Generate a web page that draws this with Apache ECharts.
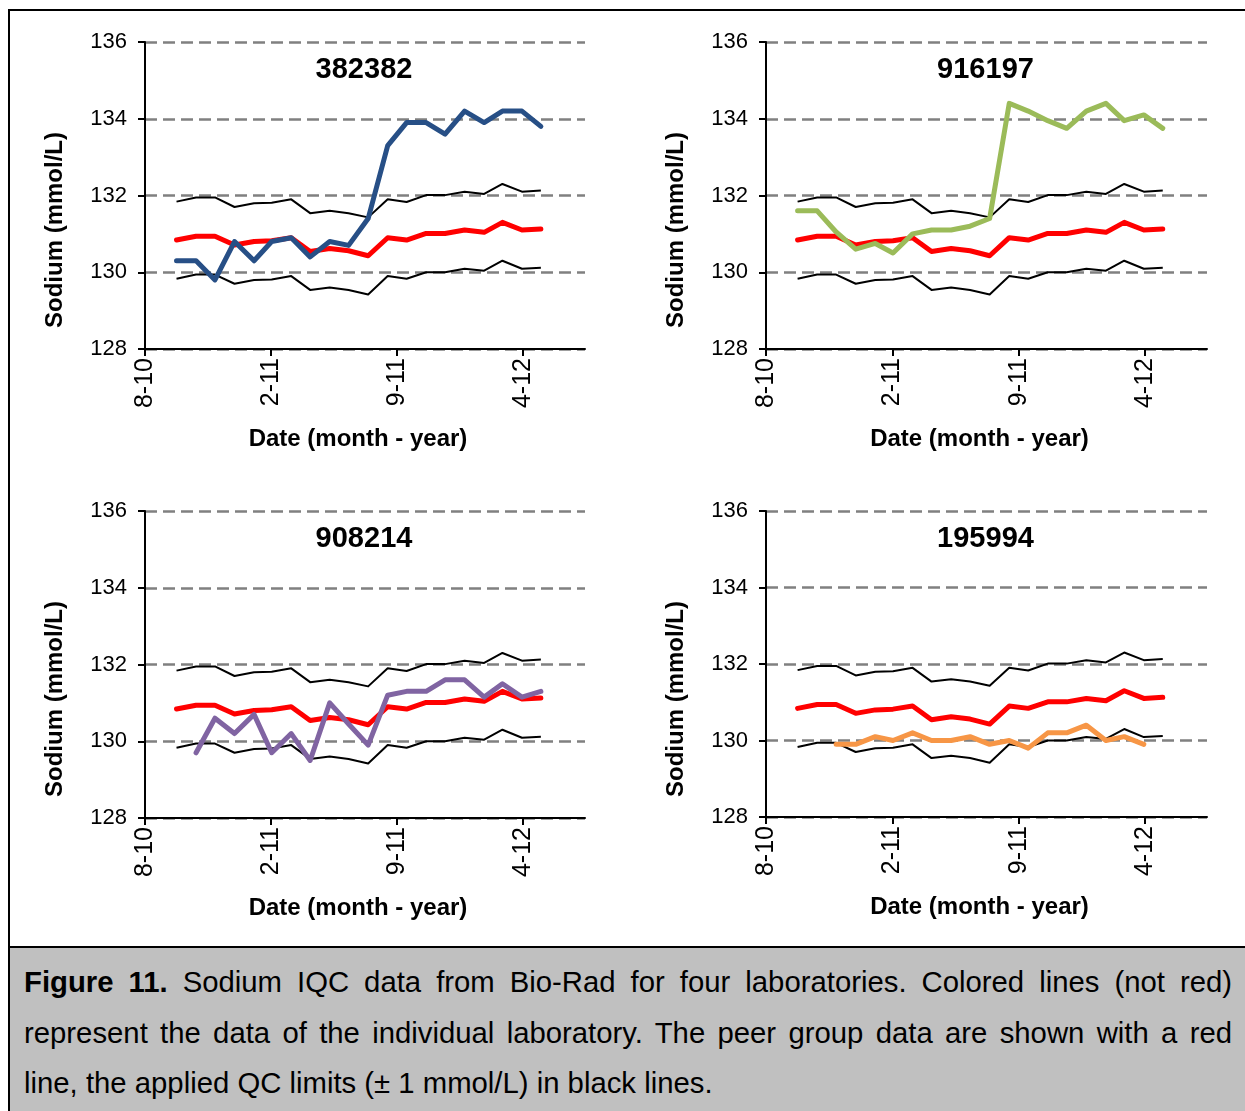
<!DOCTYPE html>
<html>
<head>
<meta charset="utf-8">
<title>Sodium IQC data</title>
<script src="https://cdn.jsdelivr.net/npm/echarts@6/dist/echarts.min.js"></script>
<style>
  html, body { margin: 0; padding: 0; background: #ffffff; }
  body { width: 1245px; height: 1111px; position: relative; overflow: hidden; }
  #frame {
    position: absolute; left: 8px; top: 9px; width: 1260px; height: 939px;
    border: 2px solid #000; box-sizing: border-box;
  }
  #chart { position: absolute; left: 0; top: 0; width: 1245px; height: 946px; }
  #caption {
    position: absolute; left: 8px; top: 948px; width: 1260px; height: 170px;
    background: #c0c0c0; border-left: 2px solid #000;
    box-sizing: border-box; padding: 9px 0 0 14px;
    font-family: "Liberation Sans", Arial, sans-serif; font-size: 29.3px; line-height: 50.5px; color: #000;
  }
  #caption .ln { width: 1208px; white-space: nowrap; }
  #caption .full { text-align: justify; text-align-last: justify; }
</style>
</head>
<body>
<div id="frame"></div>
<div id="chart"></div>
<div id="caption">
  <div class="ln full"><b>Figure 11.</b> Sodium IQC data from Bio-Rad for four laboratories. Colored lines (not red)</div>
  <div class="ln full">represent the data of the individual laboratory. The peer group data are shown with a red</div>
  <div class="ln">line, the applied QC limits (± 1 mmol/L) in black lines.</div>
</div>
<script>
// Monthly QC result months (each plotted at month end)
const sampleMonths = [
  '2010-09', '2010-10', '2010-11', '2010-12', '2011-01', '2011-02', '2011-03',
  '2011-04', '2011-05', '2011-06', '2011-07', '2011-08', '2011-09', '2011-10',
  '2011-11', '2011-12', '2012-01', '2012-02', '2012-03', '2012-04'
];

// Date axis: start date and major unit (days), with its tick labels
const axisStart = '2010-08-11';
const tickStepDays = 200;
const axisSpanDays = 698;
const tickLabels = ['8-10', '2-11', '9-11', '4-12'];

// Peer group mean and applied QC limits (mmol/L)
const peerMean = [130.84, 130.94, 130.94, 130.71, 130.80, 130.82, 130.90, 130.54, 130.62, 130.56,
                  130.43, 130.90, 130.84, 131.01, 131.01, 131.10, 131.04, 131.30, 131.10, 131.13];
const upperLimit = [131.84, 131.95, 131.95, 131.70, 131.80, 131.81, 131.90, 131.54, 131.60, 131.54,
                    131.43, 131.90, 131.83, 132.01, 132.01, 132.10, 132.04, 132.30, 132.10, 132.13];
const lowerLimit = [129.83, 129.94, 129.94, 129.70, 129.80, 129.81, 129.90, 129.54, 129.60, 129.54,
                    129.42, 129.90, 129.83, 130.00, 130.00, 130.09, 130.04, 130.30, 130.09, 130.12];

// Individual laboratories
const lab382382 = [130.3, 130.3, 129.8, 130.8, 130.3, 130.8, 130.9, 130.4, 130.8, 130.7,
                   131.4, 133.3, 133.9, 133.9, 133.6, 134.2, 133.9, 134.2, 134.2, 133.8];
const lab916197 = [131.6, 131.6, 131.05, 130.6, 130.75, 130.5, 131.0, 131.1, 131.1, 131.2,
                   131.4, 134.4, 134.2, 133.95, 133.75, 134.2, 134.4, 133.95, 134.1, 133.75];
const lab908214 = [null, 129.7, 130.6, 130.2, 130.7, 129.7, 130.2, 129.5, 131.0, 130.45,
                   129.9, 131.2, 131.3, 131.3, 131.6, 131.6, 131.15, 131.5, 131.15, 131.3];
const lab195994 = [null, null, 129.9, 129.9, 130.1, 130.0, 130.2, 130.0, 130.0, 130.1,
                   129.9, 130.0, 129.8, 130.2, 130.2, 130.4, 130.0, 130.1, 129.9, null];

const labs = [
  { name: '382382', values: lab382382, color: '#274F86' },
  { name: '916197', values: lab916197, color: '#9BBB59' },
  { name: '908214', values: lab908214, color: '#8064A2' },
  { name: '195994', values: lab195994, color: '#F79646' }
];

const FONT = '"Liberation Sans", Arial, Helvetica, sans-serif';
const DAY = 86400000;
const startMs = Date.parse(axisStart + 'T00:00:00Z');

// days from the axis start to the last day of a month
function monthEndDay(ym) {
  const [y, m] = ym.split('-').map(Number);
  return Math.round((Date.UTC(y, m, 0) - startMs) / DAY);
}
const xDays = sampleMonths.map(monthEndDay);

function pairs(values) {
  const out = [];
  values.forEach((v, i) => { if (v != null) out.push([xDays[i], v]); });
  return out;
}

// panel placement (plot area in px)
const panels = [
  { left: 145, top: 42, width: 440, height: 307 },
  { left: 766, top: 42, width: 441, height: 307 },
  { left: 145, top: 511, width: 440, height: 307 },
  { left: 766, top: 511, width: 441, height: 306 }
];

const tickValues = tickLabels.map((_, i) => i * tickStepDays);

const grid = [], xAxis = [], yAxis = [], series = [], graphic = [];

panels.forEach((p, k) => {
  grid.push({ left: p.left, top: p.top, width: p.width, height: p.height, containLabel: false });
  xAxis.push({
    gridIndex: k, type: 'value', min: 0, max: axisSpanDays, interval: tickStepDays,
    axisLine: { onZero: false, lineStyle: { color: '#000', width: 2 } },
    axisTick: { show: true, customValues: tickValues, length: 7, lineStyle: { color: '#000', width: 2 } },
    axisLabel: {
      customValues: tickValues, rotate: 90, margin: 9,
      formatter: v => tickLabels[Math.round(v / tickStepDays)] || '',
      color: '#000', fontSize: 25, fontFamily: FONT
    },
    splitLine: { show: false }
  });
  yAxis.push({
    gridIndex: k, type: 'value', min: 128, max: 136, interval: 2,
    axisLine: { show: true, lineStyle: { color: '#000', width: 2 } },
    axisTick: { show: true, length: 7, lineStyle: { color: '#000', width: 2 } },
    axisLabel: { color: '#000', fontSize: 22, fontFamily: FONT, margin: 18 },
    splitLine: { show: true, lineStyle: { color: '#808080', width: 2.5, type: [12, 6] } }
  });

  const base = { type: 'line', xAxisIndex: k, yAxisIndex: k, showSymbol: false, symbol: 'none',
                 animation: false, silent: true };
  series.push(Object.assign({}, base, { name: 'upper', data: pairs(upperLimit),
    lineStyle: { color: '#000', width: 2, join: 'round' } }));
  series.push(Object.assign({}, base, { name: 'lower', data: pairs(lowerLimit),
    lineStyle: { color: '#000', width: 2, join: 'round' } }));
  series.push(Object.assign({}, base, { name: 'peer', data: pairs(peerMean),
    lineStyle: { color: '#FF0000', width: 5, join: 'round', cap: 'round' } }));
  series.push(Object.assign({}, base, { name: labs[k].name, data: pairs(labs[k].values),
    lineStyle: { color: labs[k].color, width: 5, join: 'round', cap: 'round' } }));

  const cx = p.left + p.width / 2;
  // panel title (laboratory number)
  graphic.push({ type: 'text', x: cx - 1, y: p.top + 28, style: {
    text: labs[k].name, font: 'bold 29px ' + FONT, fill: '#000', align: 'center', verticalAlign: 'middle' } });
  // x axis title
  graphic.push({ type: 'text', x: cx - 7, y: p.top + p.height + 90, style: {
    text: 'Date (month - year)', font: 'bold 24px ' + FONT, fill: '#000', align: 'center', verticalAlign: 'middle' } });
  // y axis title
  graphic.push({ type: 'text', x: p.left - 90, y: p.top + 188, rotation: Math.PI / 2, style: {
    text: 'Sodium (mmol/L)', font: 'bold 24px ' + FONT, fill: '#000', align: 'center', verticalAlign: 'middle' } });
});

const chart = echarts.init(document.getElementById('chart'), null, { renderer: 'canvas' });
chart.setOption({ animation: false, backgroundColor: 'transparent', grid, xAxis, yAxis, series, graphic });
</script>
</body>
</html>
